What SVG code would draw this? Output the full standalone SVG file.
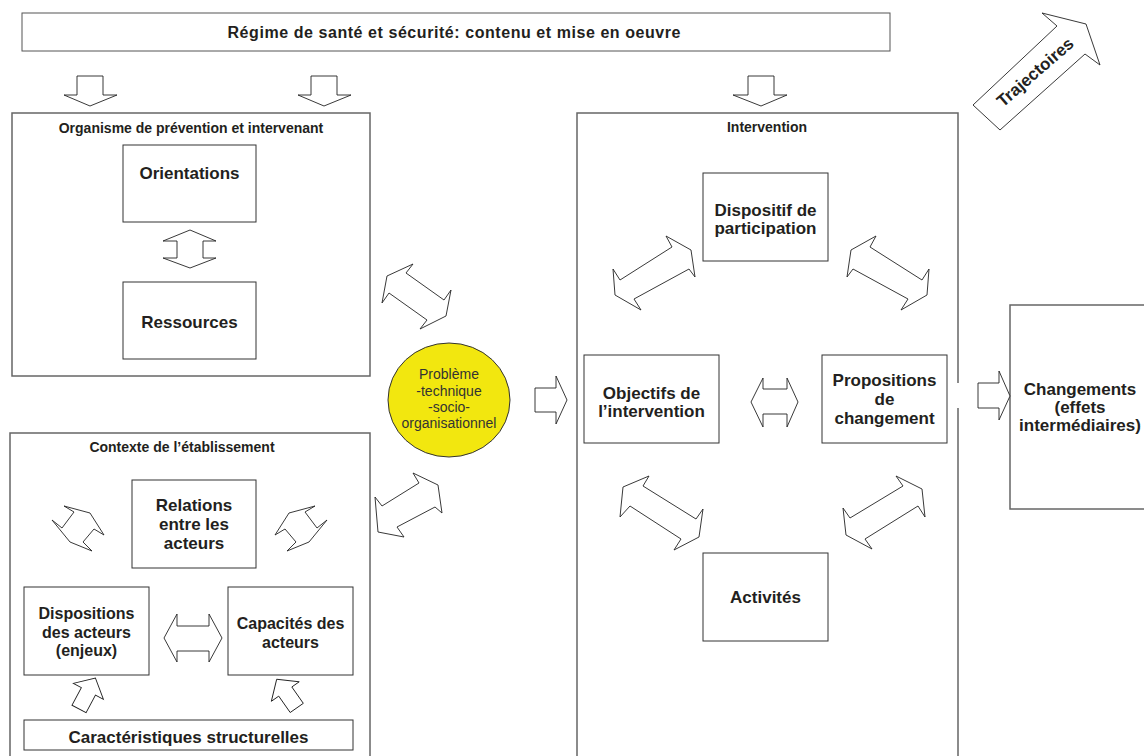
<svg xmlns="http://www.w3.org/2000/svg" width="1144" height="756" viewBox="0 0 1144 756">
<style>
.outer{fill:#fff;stroke:#666;stroke-width:1.5}
.box{fill:#fff;stroke:#333;stroke-width:1}
.arr{fill:#fff;stroke:#222;stroke-width:0.9;stroke-linejoin:miter}
.t{font-family:"Liberation Sans",Arial,Helvetica,sans-serif;font-weight:bold;fill:#231f20;text-anchor:middle}
.s14{font-size:14px}
.s16{font-size:16px}
.s17{font-size:17px}
.r{font-family:"Liberation Sans",Arial,Helvetica,sans-serif;font-size:14px;fill:#333;text-anchor:middle}
</style>
<rect width="1144" height="756" fill="#fff"/>

<g id="regime">
<rect class="box" x="22" y="13" width="868" height="38" style="stroke:#555"/>
<text class="t s16" x="454" y="38" textLength="453" lengthAdjust="spacing">Régime de santé et sécurité: contenu et mise en oeuvre</text>
</g>

<g id="organisme">
<rect class="outer" x="12" y="113" width="358" height="263"/>
<text class="t s14" x="191" y="133">Organisme de prévention et intervenant</text>
</g>
<g id="orientations">
<rect class="box" x="123" y="145" width="133" height="77"/>
<text class="t s17" x="189.5" y="179">Orientations</text>
</g>
<g id="ressources">
<rect class="box" x="123" y="282" width="133" height="77"/>
<text class="t s17" x="189.5" y="328">Ressources</text>
</g>

<g id="contexte">
<rect class="outer" x="10" y="433" width="360" height="340"/>
<text class="t s14" x="182" y="452">Contexte de l’établissement</text>
</g>
<g id="relations">
<rect class="box" x="132" y="480" width="124" height="88"/>
<text class="t s17" x="194" y="511">Relations</text>
<text class="t s17" x="194" y="530">entre les</text>
<text class="t s17" x="194" y="549">acteurs</text>
</g>
<g id="dispositions">
<rect class="box" x="24" y="587" width="125" height="88"/>
<text class="t s16" x="86.5" y="619">Dispositions</text>
<text class="t s16" x="86.5" y="638">des acteurs</text>
<text class="t s16" x="86.5" y="656">(enjeux)</text>
</g>
<g id="capacites">
<rect class="box" x="228" y="587" width="125" height="88"/>
<text class="t s16" x="290.5" y="629">Capacités des</text>
<text class="t s16" x="290.5" y="648">acteurs</text>
</g>
<g id="caracteristiques">
<rect class="box" x="24" y="720" width="329" height="30"/>
<text class="t s17" x="188.5" y="743">Caractéristiques structurelles</text>
</g>

<g id="probleme">
<ellipse cx="449" cy="400" rx="61" ry="57" fill="#f2e70f" stroke="#333" stroke-width="1"/>
<text class="r" x="449" y="379">Problème</text>
<text class="r" x="449" y="396">-technique</text>
<text class="r" x="449" y="412">-socio-</text>
<text class="r" x="449" y="428">organisationnel</text>
</g>

<g id="intervention">
<path d="M958,383 V113 H577 V770 M958,408 V770" fill="none" stroke="#666" stroke-width="1.5"/>
<text class="t s14" x="767" y="132">Intervention</text>
</g>
<g id="dispositif">
<rect class="box" x="703" y="173" width="125" height="88"/>
<text class="t s17" x="765.5" y="216">Dispositif de</text>
<text class="t s17" x="765.5" y="234">participation</text>
</g>
<g id="objectifs">
<rect class="box" x="584" y="355" width="135" height="88"/>
<text class="t s17" x="651.5" y="399">Objectifs de</text>
<text class="t s17" x="651.5" y="417">l’intervention</text>
</g>
<g id="propositions">
<rect class="box" x="822" y="355" width="125" height="88"/>
<text class="t s17" x="884.5" y="386">Propositions</text>
<text class="t s17" x="884.5" y="405">de</text>
<text class="t s17" x="884.5" y="424">changement</text>
</g>
<g id="activites">
<rect class="box" x="703" y="553" width="125" height="88"/>
<text class="t s17" x="765.5" y="603">Activités</text>
</g>

<g id="changements">
<rect class="outer" x="1010" y="305" width="142" height="204"/>
<text class="t s17" x="1080" y="395">Changements</text>
<text class="t s17" x="1080" y="413">(effets</text>
<text class="t s17" x="1080" y="431">intermédiaires)</text>
</g>

<g id="trajectoires">
<polygon class="arr" points="1042,13 1086,24 1100,65 1085,54 1000,130 973,105 1057,26"/>
<text class="t s17" x="1035" y="78" transform="rotate(-41 1035 72)">Trajectoires</text>
</g>

<g id="connectors">
<polygon class="arr" points="77,76 103,76 103,95 117,95 90,106 64,95 77,95"/>
<polygon class="arr" points="311,76 337,76 337,95 351,95 324,106 298,95 311,95"/>
<polygon class="arr" points="748,76 774,76 774,95 787,95 761,106 733,95 748,95"/>
<polygon class="arr" points="190,230 216,241 203,241 203,258 216,258 190,268 163,258 177,258 177,241 163,241"/>
<polygon class="arr" points="413,264 406,273 444,300 451,290 446,316 420,329 427,320 389,293 382,303 387,276"/>
<polygon class="arr" points="413,473 438,485 442,513 435,507 397,527 404,537 378,532 375,497 382,506 419,483"/>
<polygon class="arr" points="535,388 556,388 556,376 567,400 556,424 556,412 535,412"/>
<polygon class="arr" points="64,506 90,513 104,535 94,529 83,542 92,551 70,542 52,520 62,528 74,512"/>
<polygon class="arr" points="315,506 289,513 275,535 285,529 296,542 287,551 309,542 327,520 317,528 305,512"/>
<polygon class="arr" points="164,638 177,614 177,626 209,626 209,614 222,638 209,662 209,651 177,651 177,662"/>
<polygon class="arr" transform="translate(87,694) rotate(28)" points="0,-18 17,-3 8,-3 8,17 -8,17 -8,-3 -17,-3"/>
<polygon class="arr" transform="translate(287,694) rotate(-35)" points="0,-18 17,-3 8,-3 8,17 -8,17 -8,-3 -17,-3"/>
<polygon class="arr" points="666,236 691,250 695,277 689,269 634,299 641,310 615,295 613,269 620,280 672,247"/>
<polygon class="arr" points="876,236 851,250 847,277 853,269 908,299 901,310 927,295 929,269 922,280 870,247"/>
<polygon class="arr" points="751,402 763,378 763,389 787,389 787,378 798,402 787,427 787,414 763,414 763,427"/>
<polygon class="arr" points="649,476 643,486 696,519 703,509 699,537 674,550 681,539 630,506 620,517 623,487"/>
<polygon class="arr" points="896,476 903,486 850,518 843,508 846,535 872,549 865,539 918,506 925,517 922,489"/>
<polygon class="arr" points="978,383 999,383 999,371 1010,396 999,420 999,408 978,408"/>
</g>
</svg>
